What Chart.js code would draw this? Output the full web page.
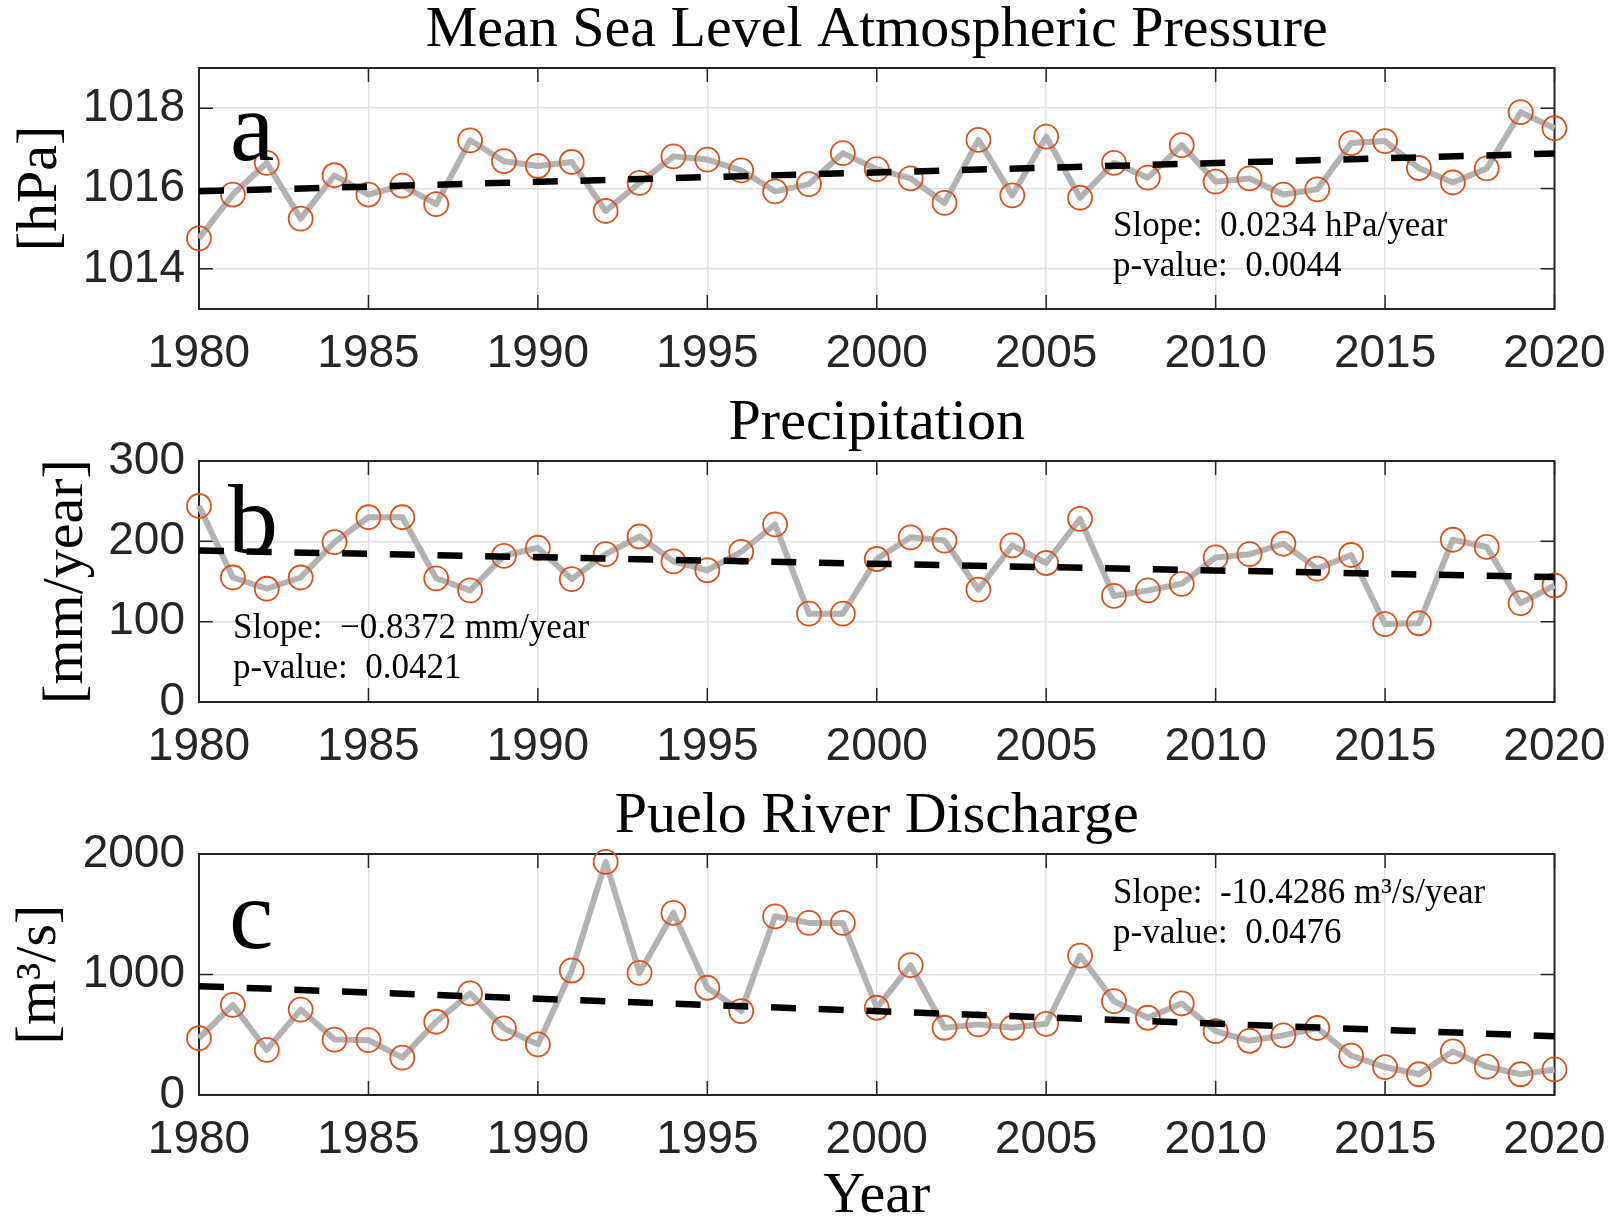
<!DOCTYPE html>
<html>
<head>
<meta charset="utf-8">
<title>Pressure, precipitation and discharge 1980-2020</title>
<script src="https://cdn.jsdelivr.net/npm/chart.js@4.4.1/dist/chart.umd.min.js"></script>
<style>
  html, body { margin: 0; padding: 0; background: #fff; }
  #wrap { position: relative; width: 1612px; height: 1223px; overflow: hidden; }
  .panel { position: absolute; left: 0; width: 1612px; }
</style>
</head>
<body>
<div id="wrap">
  <div class="panel" style="top:0px"><canvas id="chartA" width="1612" height="394"></canvas></div>
  <div class="panel" style="top:393px"><canvas id="chartB" width="1612" height="394"></canvas></div>
  <div class="panel" style="top:786px"><canvas id="chartC" width="1612" height="437"></canvas></div>
</div>
<script>
// datos
const years = [1980, 1981, 1982, 1983, 1984, 1985, 1986, 1987, 1988, 1989,
  1990, 1991, 1992, 1993, 1994, 1995, 1996, 1997, 1998, 1999,
  2000, 2001, 2002, 2003, 2004, 2005, 2006, 2007, 2008, 2009,
  2010, 2011, 2012, 2013, 2014, 2015, 2016, 2017, 2018, 2019, 2020];
const yearTicks = [1980, 1985, 1990, 1995, 2000, 2005, 2010, 2015, 2020];
const trendYears = [1980, 2020];

const pressure = [1014.76, 1015.85, 1016.64, 1015.25, 1016.33, 1015.85, 1016.07, 1015.61, 1017.20, 1016.68,
  1016.56, 1016.66, 1015.44, 1016.14, 1016.80, 1016.72, 1016.45, 1015.93, 1016.11, 1016.88,
  1016.48, 1016.25, 1015.64, 1017.21, 1015.83, 1017.29, 1015.77, 1016.64, 1016.27, 1017.08,
  1016.17, 1016.25, 1015.85, 1015.98, 1017.13, 1017.18, 1016.51, 1016.15, 1016.50, 1017.90, 1017.50];
const pressureTrend = [1015.93, 1016.87];
const pressureTicks = [1014, 1016, 1018];

const precip = [244, 155, 141, 155, 199, 230, 230, 154, 139, 182,
  192, 153, 184, 206, 175, 164, 187, 221, 110, 110,
  178, 205, 201, 140, 195, 173, 228, 132, 139, 147,
  180, 184, 197, 166, 183, 97, 98, 202, 193, 123, 145];
const precipTrend = [188.5, 155.5];
const precipTicks = [0, 100, 200, 300];

const discharge = [471, 748, 374, 709, 460, 455, 310, 608, 843, 553,
  420, 1033, 1934, 1014, 1511, 890, 696, 1483, 1428, 1428,
  724, 1077, 558, 586, 558, 591, 1157, 779, 641, 760,
  530, 450, 495, 556, 327, 232, 172, 362, 235, 172, 212];
const dischargeTrend = [903, 488];
const dischargeTicks = [0, 1000, 2000];

Chart.defaults.font.family = '"Liberation Sans", Arial, sans-serif';
Chart.defaults.color = "#262626";

// caja de ejes con marcas hacia dentro (estilo MATLAB)
const axesBox = {
  id: "axesBox",
  beforeDatasetsDraw(chart) {
    const { ctx, chartArea: a, scales } = chart;
    const len = 14;
    ctx.save();
    ctx.strokeStyle = "#262626";
    ctx.lineWidth = 1.5;
    ctx.beginPath();
    scales.x.ticks.forEach(function (t) {
      const px = scales.x.getPixelForValue(t.value);
      ctx.moveTo(px, a.bottom);
      ctx.lineTo(px, a.bottom - len);
      ctx.moveTo(px, a.top);
      ctx.lineTo(px, a.top + len);
    });
    scales.y.ticks.forEach(function (t) {
      const py = scales.y.getPixelForValue(t.value);
      ctx.moveTo(a.left, py);
      ctx.lineTo(a.left + len, py);
      ctx.moveTo(a.right, py);
      ctx.lineTo(a.right - len, py);
    });
    ctx.stroke();
    ctx.lineWidth = 2;
    ctx.strokeRect(a.left, a.top, a.right - a.left, a.bottom - a.top);
    ctx.restore();
  },
};

// letra del panel y texto de la pendiente
const panelText = {
  id: "panelText",
  afterDatasetsDraw(chart, args, opts) {
    const { ctx, chartArea: a } = chart;
    ctx.save();
    ctx.fillStyle = "#000";
    ctx.textAlign = "left";
    ctx.textBaseline = "alphabetic";
    ctx.font = '100px "Liberation Serif"';
    ctx.fillText(opts.letter, a.left + opts.letterDx, a.top + opts.letterDy);
    ctx.font = '35px "Liberation Serif"';
    opts.lines.forEach(function (s, i) {
      ctx.fillText(s, a.left + opts.textDx, a.top + opts.textDy + i * 39.5);
    });
    ctx.restore();
  },
};

function makePanel(canvasId, p) {
  const ctx = document.getElementById(canvasId).getContext("2d");
  const canvasHeight = document.getElementById(canvasId).height;
  return new Chart(ctx, {
    type: "line",
    data: {
      datasets: [
        {
          data: years.map((yr, i) => ({ x: yr, y: p.values[i] })),
          borderColor: "#b3b3b3",
          borderWidth: 6,
          borderJoinStyle: "round",
          pointRadius: 12,
          pointHoverRadius: 12,
          pointBorderColor: "#d95319",
          pointBorderWidth: 1.8,
          pointBackgroundColor: "rgba(0,0,0,0)",
          tension: 0,
          clip: false,
          order: 2,
        },
        {
          data: trendYears.map((yr, i) => ({ x: yr, y: p.trend[i] })),
          borderColor: "#000",
          borderWidth: 6.5,
          borderDash: [25, 22.7],
          pointRadius: 0,
          order: 1,
        },
      ],
    },
    options: {
      responsive: false,
      animation: false,
      layout: { padding: { left: 0, right: 57.5, top: 0, bottom: 0 } },
      scales: {
        x: {
          type: "linear",
          min: 1980,
          max: 2020,
          afterBuildTicks: (s) => { s.ticks = yearTicks.map((v) => ({ value: v })); },
          afterFit: (s) => {
            s.height = canvasHeight - 309;
            s.paddingLeft = 0;
            s.paddingRight = 0;
          },
          ticks: {
            callback: (v) => String(v),
            font: { size: 46, lineHeight: 1.2 },
            color: "#262626",
            padding: 18,
            maxRotation: 0,
          },
          grid: { color: "#dfdfdf", lineWidth: 1.5, drawTicks: false },
          border: { display: false },
          title: p.xTitle
            ? {
                display: true,
                text: p.xTitle,
                color: "#000",
                font: { family: '"Liberation Serif", serif', size: 58, lineHeight: 0.9 },
                padding: { top: 0, bottom: 0 },
              }
            : { display: false },
        },
        y: {
          min: p.yMin,
          max: p.yMax,
          afterBuildTicks: (s) => { s.ticks = p.ticks.map((v) => ({ value: v })); },
          afterFit: (s) => { s.width = 199; },
          ticks: {
            callback: (v) => String(v),
            font: { size: 46, lineHeight: 1.2 },
            color: "#262626",
            padding: 14,
          },
          grid: { color: "#dfdfdf", lineWidth: 1.5, drawTicks: false },
          border: { display: false },
          title: {
            display: true,
            text: p.yTitle,
            color: "#000",
            font: { family: '"Liberation Serif", serif', size: 58, lineHeight: 1 },
            padding: { top: p.yTitlePad, bottom: 0 },
          },
        },
      },
      plugins: {
        legend: { display: false },
        tooltip: { enabled: false },
        title: {
          display: true,
          text: p.title,
          fullSize: false,
          color: "#000",
          font: { family: '"Liberation Serif", serif', size: 58, weight: "normal", lineHeight: 0.9 },
          padding: { top: 5, bottom: 10.8 },
        },
        panelText: p.text,
      },
    },
    plugins: [axesBox, panelText],
  });
}

makePanel("chartA", {
  values: pressure,
  trend: pressureTrend,
  ticks: pressureTicks,
  yMin: 1013,
  yMax: 1019,
  title: "Mean Sea Level Atmospheric Pressure",
  yTitle: "[hPa]",
  yTitlePad: 12,
  text: {
    letter: "a", letterDx: 31, letterDy: 92,
    lines: ["Slope:  0.0234 hPa/year", "p-value:  0.0044"],
    textDx: 914, textDy: 168,
  },
});

makePanel("chartB", {
  values: precip,
  trend: precipTrend,
  ticks: precipTicks,
  yMin: 0,
  yMax: 300,
  title: "Precipitation",
  yTitle: "[mm/year]",
  yTitlePad: 38,
  text: {
    letter: "b", letterDx: 29, letterDy: 92,
    lines: ["Slope:  \u22120.8372 mm/year", "p-value:  0.0421"],
    textDx: 34, textDy: 177,
  },
});

makePanel("chartC", {
  values: discharge,
  trend: dischargeTrend,
  ticks: dischargeTicks,
  yMin: 0,
  yMax: 2000,
  title: "Puelo River Discharge",
  yTitle: "[m\u00b3/s]",
  yTitlePad: 11,
  xTitle: "Year",
  text: {
    letter: "c", letterDx: 30, letterDy: 94,
    lines: ["Slope:  -10.4286 m\u00b3/s/year", "p-value:  0.0476"],
    textDx: 914, textDy: 49,
  },
});
</script>
</body>
</html>
